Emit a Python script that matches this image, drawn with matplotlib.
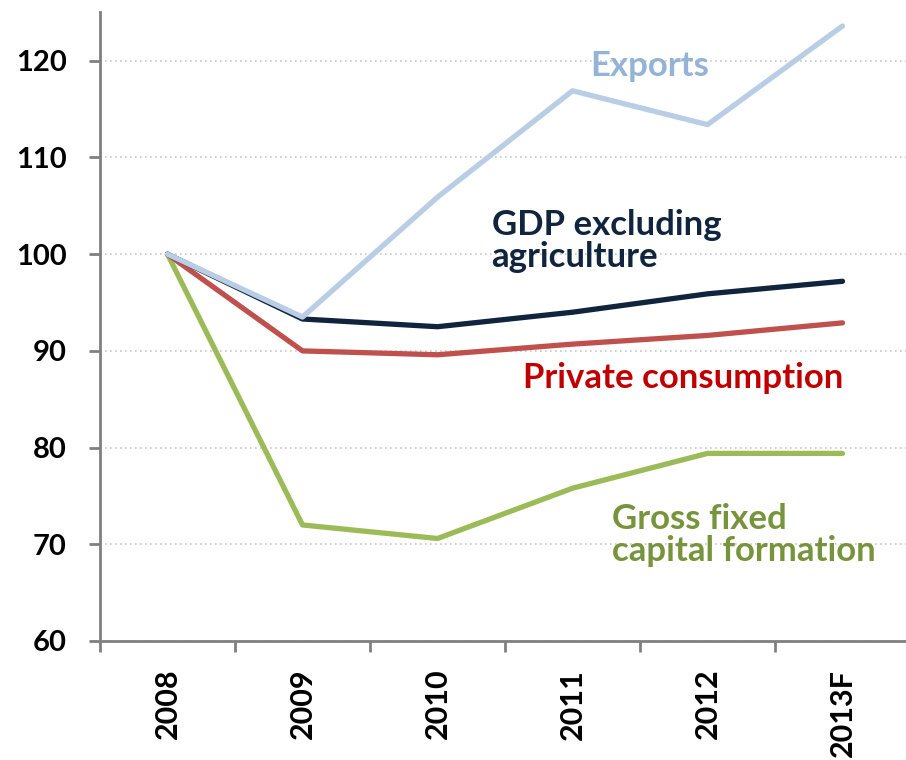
import matplotlib.pyplot as plt
import numpy as np

years = ["2008", "2009", "2010", "2011", "2012", "2013F"]
exports = [100, 93.5, 105.9, 116.9, 113.4, 123.6]
gdp_ex_agri = [100, 93.3, 92.5, 94.0, 95.9, 97.2]
private_cons = [100, 90.0, 89.6, 90.7, 91.6, 92.9]
gross_fixed_cap = [100, 72.0, 70.6, 75.8, 79.4, 79.4]

plt.rcParams['font.family'] = ['Lato', 'DejaVu Sans']

fig = plt.figure(figsize=(9.06, 7.6), dpi=100)
ax = fig.add_axes([100 / 906, 1 - 641 / 760, 1 - 100 / 906, (641 - 12) / 760])

x = np.arange(len(years))
series = [
    (exports, "#B9CDE5", "Exports", "#95B3D7", (3.57, 119.5), "center"),
    (gdp_ex_agri, "#10243E", "GDP excluding\nagriculture", "#10243E", (2.40, 101.4), "left"),
    (private_cons, "#C0504D", "Private consumption", "#C00000", (2.63, 87.2), "left"),
    (gross_fixed_cap, "#9BBB59", "Gross fixed\ncapital formation", "#77933C", (3.29, 71.0), "left"),
]
# draw bottom-up so that the lighter lines sit on top
for vals, col, label, tcol, pos, ha in reversed(series):
    ax.plot(x, vals, color=col, lw=3.8, solid_capstyle="round", solid_joinstyle="round")
    ax.text(pos[0], pos[1], label, color=tcol, fontsize=25, fontweight="bold",
            ha=ha, va="center", linespacing=1.0)

ax.set_xlim(-0.5, -0.5 + 806 / 135)
ax.set_ylim(60, 60 + 629 / 9.67)
ax.set_yticks(np.arange(60, 121, 10))
ax.set_xticks(x)
ax.set_xticklabels(years, rotation=90)
ax.set_xticks(np.arange(-0.5, 5.0, 1), minor=True)

for lbl in ax.get_yticklabels():
    lbl.set_fontsize(21)
    lbl.set_fontweight("bold")
for lbl in ax.get_xticklabels():
    lbl.set_fontsize(22)
    lbl.set_fontweight("bold")

ax.tick_params(axis="y", length=8, width=2, color="#808080", pad=16)
ax.tick_params(axis="x", which="major", length=0, pad=20)
ax.tick_params(axis="x", which="minor", length=8, width=2, color="#808080")

ax.grid(axis="y", color="#C8C8C8", linestyle=(0, (1, 2)), lw=1.2)
ax.set_axisbelow(True)

for side in ["top", "right"]:
    ax.spines[side].set_visible(False)
for side in ["left", "bottom"]:
    ax.spines[side].set_color("#808080")
    ax.spines[side].set_linewidth(2)

fig.savefig("out.png", dpi=100)
